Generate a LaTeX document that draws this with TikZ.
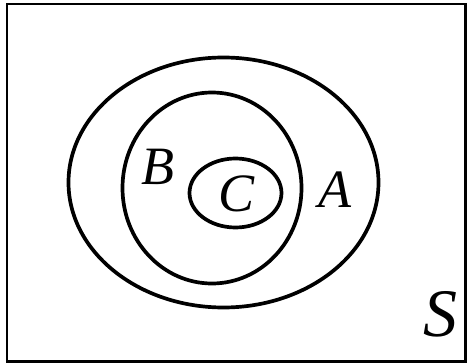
\documentclass[tikz,border=0pt]{standalone}
\usepackage{fontspec}
\setmainfont{Liberation Serif}
\begin{document}
\begin{tikzpicture}[x=1pt,y=-1pt,
  setline/.style={line width=3.7pt},
  lbl/.style={inner sep=0pt,font=\itshape\fontsize{54}{54}\selectfont}]
\useasboundingbox (0,0) rectangle (467,364);
\draw[line width=2.2pt] (7,4) rectangle (465.5,361.5);
\draw[setline] (223.5,182.5) ellipse [x radius=155, y radius=125];
\draw[setline] (212,188) ellipse [x radius=89.5, y radius=95.5];
\draw[setline] (235.5,193) ellipse [x radius=46, y radius=34.5];
\node[lbl] (B) at (158,167) {B};
\node[lbl] (C) at (237,194) {C};
\node[lbl] (A) at (335,190) {A};
\node[lbl,font=\itshape\fontsize{68}{68}\selectfont] (S) at (440,314) {S};
\end{tikzpicture}
\end{document}
